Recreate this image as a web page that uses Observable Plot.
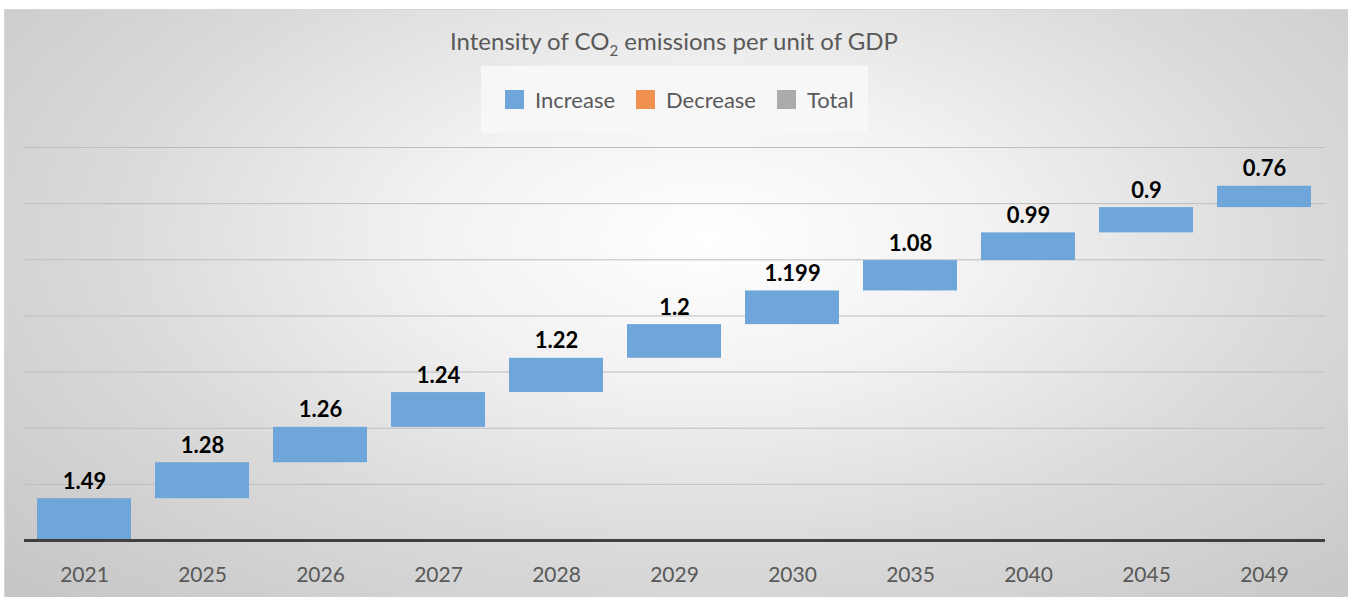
<!DOCTYPE html>
<html>
<head>
<meta charset="utf-8">
<script src="https://cdn.jsdelivr.net/npm/d3@7"></script>
<script src="https://cdn.jsdelivr.net/npm/@observablehq/plot@0.6"></script>
<style>
  html, body { margin: 0; padding: 0; background: #ffffff; }
  body { position: relative; width: 1348px; height: 597px; overflow: hidden; font-family: Lato, "Open Sans", sans-serif; }
  #panel {
    position: absolute; left: 4px; top: 9px; width: 1350px; height: 600px;
    border-top: 1px solid #d6d6d6; border-left: 1px solid #d6d6d6;
    background: radial-gradient(ellipse farthest-corner at 52% 38%, #ffffff 0%, #f2f2f2 28%, #dadada 60%, #c4c4c4 100%);
  }
  #title {
    position: absolute; left: 0; top: 28px; width: 1348px; text-align: center;
    font-size: 24px; line-height: 26px; color: #595959;
  }
  #title sub { font-size: 15px; vertical-align: -6px; line-height: 0; }
  #legend {
    position: absolute; left: 481px; top: 66px; width: 387px; height: 67px;
    background: #f7f7f7; box-sizing: border-box; padding-left: 24px;
    display: flex; align-items: center; gap: 21px;
    font-size: 22px; color: #595959;
  }
  .item { display: flex; align-items: center; gap: 11px; }
  .swatch { width: 19px; height: 19px; }
  #chart { position: absolute; left: 0; top: 130px; }
</style>
</head>
<body>
<div id="panel"></div>
<div id="title">Intensity of CO<sub>2</sub> emissions per unit of GDP</div>
<div id="legend"></div>
<div id="chart"></div>
<script>
// Years on the x axis and the intensity value for each step of the waterfall
const years = ["2021", "2025", "2026", "2027", "2028", "2029", "2030", "2035", "2040", "2045", "2049"];
const values = [1.49, 1.28, 1.26, 1.24, 1.22, 1.2, 1.199, 1.08, 0.99, 0.9, 0.76];

// Legend entries of the waterfall series
const legendLabels = ["Increase", "Decrease", "Total"];
const legendColors = ["#6EA6DA", "#F0914F", "#ABABAB"];

// Value-axis gridlines
const gridTicks = [2, 4, 6, 8, 10, 12, 14];

// Each step floats on the running total of the previous ones
const ends = Array.from(d3.cumsum(values));
const steps = years.map((year, i) => ({
  year,
  value: values[i],
  start: ends[i] - values[i],
  end: ends[i]
}));

const legend = document.getElementById("legend");
legendLabels.forEach((label, i) => {
  const item = document.createElement("div");
  item.className = "item";
  const sw = document.createElement("div");
  sw.className = "swatch";
  sw.style.background = legendColors[i];
  const tx = document.createElement("span");
  tx.textContent = label;
  item.append(sw, tx);
  legend.append(item);
});

const chart = Plot.plot({
  width: 1348,
  height: 467,
  marginTop: 17,
  marginBottom: 57,
  marginLeft: 24,
  marginRight: 23,
  style: { background: "transparent", fontFamily: "Lato, 'Open Sans', sans-serif", color: "#595959", overflow: "visible" },
  x: { type: "band", domain: years, paddingInner: 0.2, paddingOuter: 0.1, axis: null, label: null },
  y: { domain: [0, 14], axis: null },
  marks: [
    Plot.ruleY(gridTicks, { stroke: "#bdbdbd", strokeWidth: 1 }),
    Plot.barY(steps, { x: "year", y1: "start", y2: "end", fill: legendColors[0] }),
    Plot.ruleY([0], { stroke: "#404040", strokeWidth: 3 }),
    Plot.text(steps, {
      x: "year", y: "end", text: d => String(d.value),
      dy: -17, fontSize: 22, fontWeight: "bold", fill: "#000000"
    }),
    Plot.axisX({ tickSize: 0, tickPadding: 27, fontSize: 21, label: null })
  ]
});
document.getElementById("chart").append(chart);
</script>
</body>
</html>
